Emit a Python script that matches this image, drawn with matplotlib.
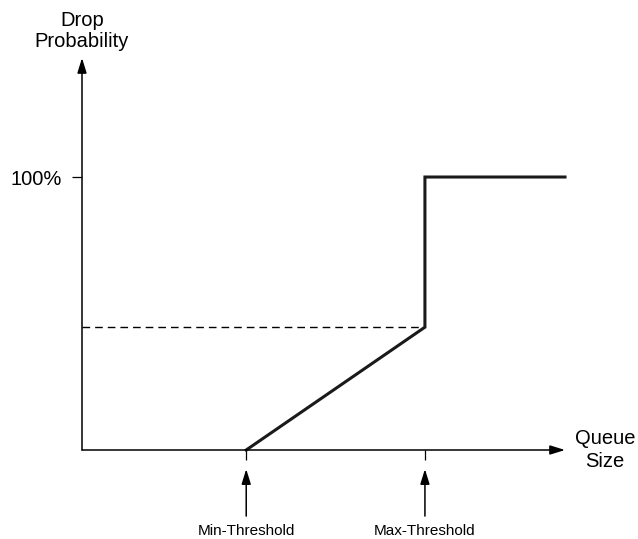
import matplotlib.pyplot as plt

plt.rcParams['font.family'] = ['Liberation Sans', 'DejaVu Sans']

# RED drop profile (queue size in arbitrary units, probability in %)
min_th = 34
max_th = 71
q_end = 100
max_p = 45
full_p = 100

curve_x = [min_th, max_th, max_th, q_end]
curve_y = [0, max_p, full_p, full_p]

threshold_labels = ['Min-Threshold', 'Max-Threshold']
threshold_pos = [min_th, max_th]

fig = plt.figure(figsize=(6.38, 5.39), dpi=100)
W, H = 638, 539
# axes: origin at (82, 450) px, x to 565 px, y up to 58 px
ax = fig.add_axes([82 / W, (H - 450) / H, (565 - 82) / W, (450 - 58) / H])
ax.set_xlim(0, 100)
ax.set_ylim(0, 143.6)
ax.patch.set_visible(False)
for s in ax.spines.values():
    s.set_visible(False)

# axes with arrow heads
arrow = dict(arrowstyle='-|>,head_length=0.9,head_width=0.28', color='black',
             lw=1.1, shrinkA=0, shrinkB=0, mutation_scale=10)
ax.annotate('', xy=(100, 0), xytext=(0, 0), arrowprops=arrow, annotation_clip=False)
ax.annotate('', xy=(0, 143.6), xytext=(0, 0), arrowprops=arrow, annotation_clip=False)

# ticks
ax.set_xticks(threshold_pos)
ax.set_xticklabels([])
ax.set_yticks([full_p])
ax.set_yticklabels(['100%'], fontsize=14.5)
ax.tick_params(axis='both', direction='out', length=7.2, width=0.9, color='black')
ax.tick_params(axis='y', pad=7)

# dashed max probability guide
ax.plot([0, max_th], [max_p, max_p], color='black', lw=1.0,
        linestyle=(0, (5.5, 3.6)))

# drop probability curve
ax.plot(curve_x, curve_y, color='#1a1a1a', lw=2.2, solid_joinstyle='miter',
        clip_on=False)

# threshold arrows and labels
for pos, lab in zip(threshold_pos, threshold_labels):
    ax.annotate('', xy=(pos, -7.0), xytext=(pos, -24.2), arrowprops=arrow,
                annotation_clip=False)
    ax.text(pos, -29.5, lab, ha='center', va='center', fontsize=11)

fig.text(82 / W, 1 - 31 / H, 'Drop\nProbability', ha='center', va='center',
         fontsize=14.5, linespacing=1.1)
fig.text(605 / W, 1 - 450 / H, 'Queue\nSize', ha='center', va='center',
         fontsize=14.5, linespacing=1.25)

fig.savefig('out.png', dpi=100)
